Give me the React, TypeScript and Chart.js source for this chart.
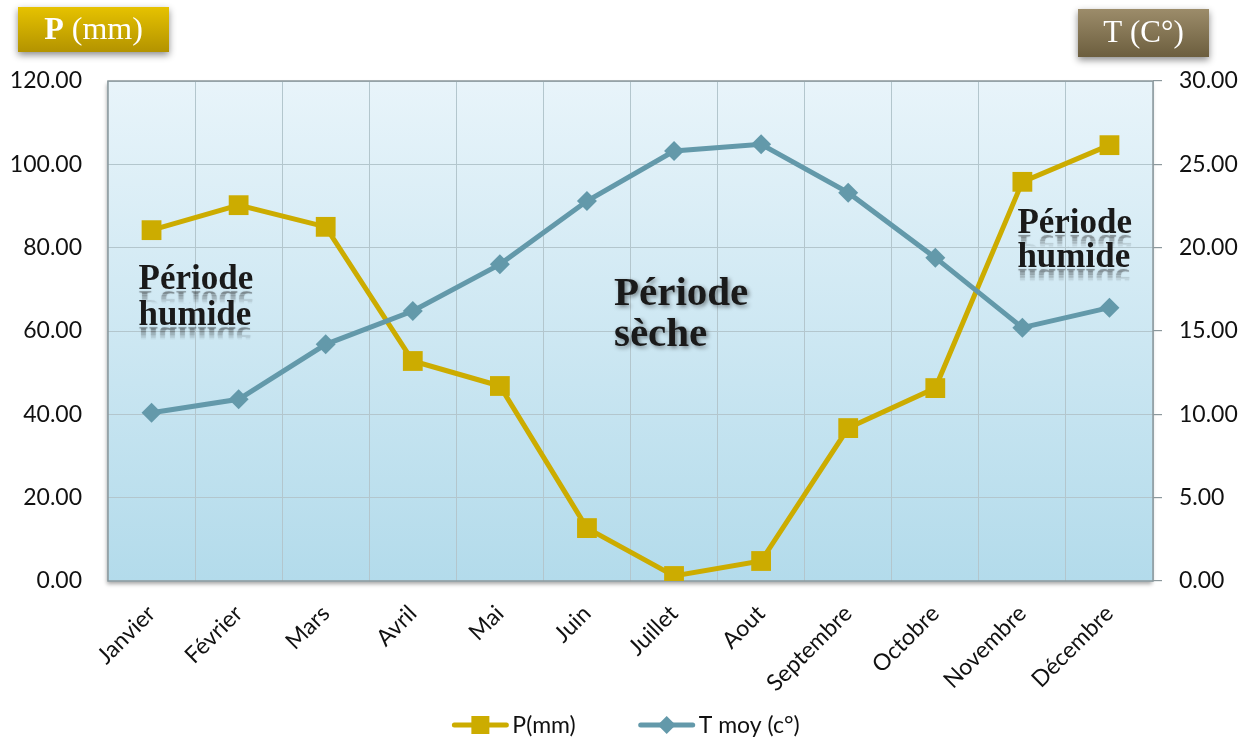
import React, { useEffect, useRef } from "react";
import { Chart, registerables } from "chart.js";

Chart.register(...registerables);

const months = ["Janvier", "Février", "Mars", "Avril", "Mai", "Juin", "Juillet", "Aout", "Septembre", "Octobre", "Novembre", "Décembre"];
const precip = [84.2, 90.2, 85.0, 52.8, 46.8, 12.7, 1.2, 4.8, 36.7, 46.3, 95.8, 104.6];
const temp = [10.1, 10.9, 14.2, 16.2, 19.0, 22.8, 25.8, 26.2, 23.3, 19.4, 15.2, 16.4];
const leftTicks = { min: 0, max: 120, step: 20 };
const rightTicks = { min: 0, max: 30, step: 5 };
const seriesNames = ["P(mm)", "T moy (c°)"];
const axisTitles = ["P", " (mm)", "T (C°)"];
const periodLabels = [["Période", "humide"], ["Période", "sèche"], ["Période", "humide"]];

const P_COLOR = "#ccac00";
const T_COLOR = "#6399aa";
const TICK_FONT = "Lato, 'Open Sans', sans-serif";
const SERIF = "'Liberation Serif', 'DejaVu Serif', serif";

function drawPeriod(ctx: CanvasRenderingContext2D, lines: string[], x: number, y: number, lh: number, size: number, reflect: boolean) {
  ctx.save();
  ctx.font = `bold ${size}px ${SERIF}`;
  ctx.textAlign = "left";
  ctx.textBaseline = "alphabetic";
  lines.forEach((line, i) => {
    const by = y + i * lh;
    const w = ctx.measureText(line).width;
    if (reflect) {
      const rh = size * 0.36;
      const slices = 8;
      for (let s = 0; s < slices; s++) {
        ctx.save();
        ctx.beginPath();
        ctx.rect(x - 4, by + 1 + (rh * s) / slices, w + 8, rh / slices + 0.5);
        ctx.clip();
        ctx.globalAlpha = 0.28 * (1 - s / slices);
        ctx.translate(0, 2 * by + 2);
        ctx.scale(1, -1);
        ctx.fillStyle = "#1a1a1a";
        ctx.shadowColor = "rgba(0,0,0,0.5)";
        ctx.shadowBlur = 2;
        ctx.fillText(line, x, by);
        ctx.restore();
      }
    } else {
      ctx.shadowColor = "rgba(0,0,0,0.45)";
      ctx.shadowBlur = 4;
      ctx.shadowOffsetX = 2;
      ctx.shadowOffsetY = 2;
    }
    ctx.fillStyle = "#1a1a1a";
    ctx.fillText(line, x, by);
  });
  ctx.restore();
}

function drawHeaderBox(ctx: CanvasRenderingContext2D, x: number, y: number, w: number, h: number, top: string, bottom: string) {
  ctx.save();
  ctx.shadowColor = "rgba(0,0,0,0.45)";
  ctx.shadowBlur = 7;
  ctx.shadowOffsetY = 3;
  const g = ctx.createLinearGradient(0, y, 0, y + h);
  g.addColorStop(0, top);
  g.addColorStop(1, bottom);
  ctx.fillStyle = g;
  ctx.fillRect(x, y, w, h);
  ctx.restore();
}

const decorPlugin = {
  id: "decor",
  beforeDraw(chart: any) {
    const { ctx, chartArea: a } = chart;
    ctx.save();
    ctx.shadowColor = "rgba(0,0,0,0.35)";
    ctx.shadowBlur = 4;
    ctx.shadowOffsetX = -1;
    ctx.shadowOffsetY = 3;
    const g = ctx.createLinearGradient(0, a.top, 0, a.bottom);
    g.addColorStop(0, "#e8f4fa");
    g.addColorStop(1, "#b3dbeb");
    ctx.fillStyle = g;
    ctx.fillRect(a.left, a.top, a.right - a.left, a.bottom - a.top);
    ctx.restore();

    drawHeaderBox(ctx, 18, 7, 151, 45, "#e6c200", "#b39300");
    drawHeaderBox(ctx, 1078, 9, 131, 48, "#9c8c6a", "#6c5e3e");
    ctx.save();
    ctx.fillStyle = "#ffffff";
    ctx.textBaseline = "middle";
    ctx.font = `bold 32px ${SERIF}`;
    const pw = ctx.measureText(axisTitles[0]).width;
    ctx.font = `32px ${SERIF}`;
    const rw = ctx.measureText(axisTitles[1]).width;
    const sx = 93.5 - (pw + rw) / 2;
    ctx.font = `bold 32px ${SERIF}`;
    ctx.textAlign = "left";
    ctx.fillText(axisTitles[0], sx, 31);
    ctx.font = `32px ${SERIF}`;
    ctx.fillText(axisTitles[1], sx + pw, 31);
    ctx.textAlign = "center";
    ctx.font = `31px ${SERIF}`;
    ctx.fillText(axisTitles[2], 1143.5, 34);
    ctx.restore();
  },
  beforeDatasetsDraw(chart: any) {
    const { ctx, chartArea: a, scales } = chart;
    ctx.save();
    ctx.strokeStyle = "#8c989c";
    ctx.lineWidth = 1.5;
    ctx.strokeRect(a.left, a.top, a.right - a.left, a.bottom - a.top);
    ctx.restore();

    const x = scales.x;
    const y = scales.y;
    drawPeriod(ctx, periodLabels[0], x.getPixelForValue(0) - 13, y.getPixelForValue(70), 36, 35, true);
    drawPeriod(ctx, periodLabels[1], x.getPixelForValue(5) + 27, y.getPixelForValue(66.2), 41, 41, false);
    drawPeriod(ctx, periodLabels[2], x.getPixelForValue(10) - 5, y.getPixelForValue(83.5), 34, 35, true);
  },
  afterDraw(chart: any) {
    const { ctx, width } = chart;
    ctx.save();
    ctx.font = `23px ${TICK_FONT}`;
    ctx.textBaseline = "middle";
    const lineLen = 56;
    const gap = 4;
    const between = 63;
    const w0 = ctx.measureText(seriesNames[0]).width;
    const w1 = ctx.measureText(seriesNames[1]).width;
    const total = lineLen + gap + w0 + between + lineLen + gap + w1;
    let cx = width / 2 - total / 2;
    const cy = 725;
    const items = [
      { name: seriesNames[0], color: P_COLOR, marker: "square", w: w0 },
      { name: seriesNames[1], color: T_COLOR, marker: "diamond", w: w1 },
    ];
    items.forEach((it) => {
      ctx.strokeStyle = it.color;
      ctx.lineWidth = 5;
      ctx.lineCap = "round";
      ctx.beginPath();
      ctx.moveTo(cx + 2, cy);
      ctx.lineTo(cx + lineLen - 2, cy);
      ctx.stroke();
      ctx.fillStyle = it.color;
      const mx = cx + lineLen / 2;
      if (it.marker === "square") {
        ctx.fillRect(mx - 9, cy - 9, 18, 18);
      } else {
        ctx.beginPath();
        ctx.moveTo(mx, cy - 9);
        ctx.lineTo(mx + 9, cy);
        ctx.lineTo(mx, cy + 9);
        ctx.lineTo(mx - 9, cy);
        ctx.closePath();
        ctx.fill();
      }
      ctx.fillStyle = "#111";
      ctx.textAlign = "left";
      ctx.fillText(it.name, cx + lineLen + gap, cy + 1);
      cx += lineLen + gap + it.w + between;
    });
    ctx.restore();
  },
};

export default function App() {
  const ref = useRef<HTMLCanvasElement | null>(null);
  useEffect(() => {
    document.body.style.margin = "0";
    const canvas = ref.current!;
    const chart = new Chart(canvas, {
      type: "line",
      data: {
        labels: months,
        datasets: [
          {
            label: seriesNames[0],
            data: precip,
            yAxisID: "y",
            borderColor: P_COLOR,
            backgroundColor: P_COLOR,
            borderWidth: 5,
            pointStyle: "rect",
            pointRadius: 14,
            pointBorderWidth: 0,
            pointBackgroundColor: P_COLOR,
            tension: 0,
            order: 1,
          },
          {
            label: seriesNames[1],
            data: temp,
            yAxisID: "y1",
            borderColor: T_COLOR,
            backgroundColor: T_COLOR,
            borderWidth: 5,
            pointStyle: "rectRot",
            pointRadius: 10,
            pointBorderWidth: 0,
            pointBackgroundColor: T_COLOR,
            tension: 0,
            order: 0,
          },
        ],
      },
      options: {
        animation: false,
        responsive: false,
        maintainAspectRatio: false,
        layout: { padding: { top: 81, left: 0, right: 0, bottom: 0 } },
        plugins: { legend: { display: false }, tooltip: { enabled: false } },
        scales: {
          x: {
            offset: true,
            grid: { offset: true, color: "#b3c6cd", lineWidth: 1, drawTicks: false },
            border: { display: false },
            ticks: {
              minRotation: 45,
              maxRotation: 45,
              padding: 19,
              color: "#111",
              font: { family: TICK_FONT, size: 23 },
            },
            afterFit: (s: any) => { s.height = 160; },
          },
          y: {
            position: "left",
            min: leftTicks.min,
            max: leftTicks.max,
            grid: { color: "#b3c6cd", lineWidth: 1, drawTicks: false },
            border: { display: false },
            ticks: {
              stepSize: leftTicks.step,
              padding: 26,
              color: "#111",
              font: { family: TICK_FONT, size: 23 },
              callback: (v: any) => Number(v).toFixed(2),
            },
            afterFit: (s: any) => { s.width = 108; },
          },
          y1: {
            position: "right",
            min: rightTicks.min,
            max: rightTicks.max,
            grid: { drawOnChartArea: false, drawTicks: true, tickLength: 9, color: "#8c989c", lineWidth: 1.2 },
            border: { display: false },
            ticks: {
              stepSize: rightTicks.step,
              padding: 17,
              color: "#111",
              font: { family: TICK_FONT, size: 23 },
              callback: (v: any) => Number(v).toFixed(2),
            },
            afterFit: (s: any) => { s.width = 99; },
          },
        },
      },
      plugins: [decorPlugin],
    });
    return () => chart.destroy();
  }, []);
  return (
    <div style={{ position: "absolute", left: 0, top: 0, width: 1252, height: 741, background: "#fff" }}>
      <canvas ref={ref} width={1252} height={741} style={{ display: "block" }} />
    </div>
  );
}
